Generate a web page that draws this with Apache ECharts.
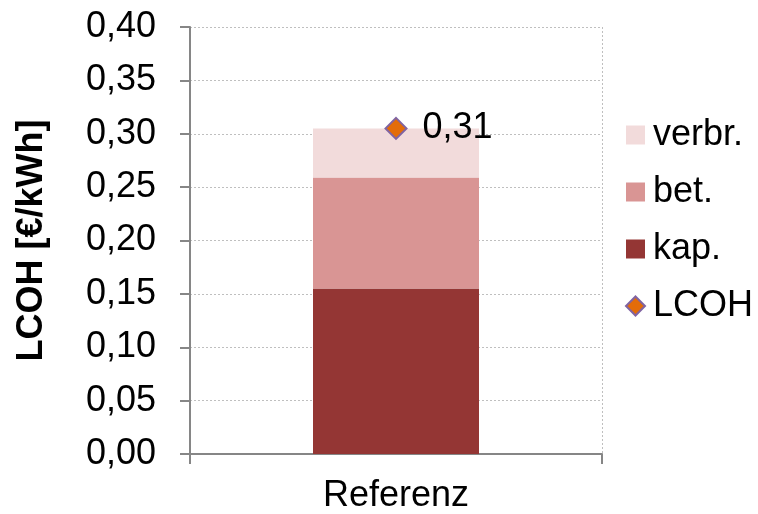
<!DOCTYPE html>
<html>
<head>
<meta charset="utf-8">
<script src="https://cdn.jsdelivr.net/npm/echarts@6/dist/echarts.min.js"></script>
<style>
  html, body { margin: 0; padding: 0; background: #fff; }
  #chart { width: 758px; height: 514px; }
</style>
</head>
<body>
<div id="chart"></div>
<script>
// Levelized cost of heat, split into its cost components (€/kWh)
const categories = ['Referenz'];
const kap = [0.155];    // capital costs
const bet = [0.104];    // operating costs
const verbr = [0.046];  // consumption costs
const lcoh = categories.map((_, i) => kap[i] + bet[i] + verbr[i]);

const yMin = 0, yMax = 0.4, yStep = 0.05;
// two decimals, half rounded up, German decimal comma
const fmt = v => (Math.round(v * 100 + 1e-9) / 100).toFixed(2).replace('.', ',');

const FONT = 'Liberation Sans, Arial, sans-serif';
const FS = 36;
const chart = echarts.init(document.getElementById('chart'), null, { renderer: 'canvas' });

chart.setOption({
  animation: false,
  textStyle: { fontFamily: FONT },
  grid: { left: 190, right: 156, top: 27, bottom: 59, containLabel: false },
  legend: {
    orient: 'vertical',
    left: 625,
    top: 117,
    padding: 0,
    itemWidth: 19,
    itemHeight: 19,
    itemGap: 21,
    textStyle: { fontFamily: FONT, fontSize: FS, color: '#000', lineHeight: 36, padding: [0, 0, 0, 3] },
    data: [
      { name: 'verbr.', icon: 'rect' },
      { name: 'bet.', icon: 'rect' },
      { name: 'kap.', icon: 'rect' },
      { name: 'LCOH', icon: 'diamond' }
    ]
  },
  xAxis: {
    type: 'category',
    data: categories,
    boundaryGap: true,
    axisLine: { lineStyle: { color: '#868686', width: 2 } },
    axisTick: { show: true, length: 10, lineStyle: { color: '#868686', width: 2 } },
    axisLabel: { fontFamily: FONT, fontSize: FS, color: '#000', margin: 24 },
    splitLine: { show: true, lineStyle: { color: '#BFBFBF', type: [2, 2], width: 1 } }
  },
  yAxis: {
    type: 'value',
    min: yMin,
    max: yMax,
    interval: yStep,
    name: 'LCOH [€/kWh]',
    nameLocation: 'middle',
    nameGap: 140,
    nameTextStyle: { fontFamily: FONT, fontSize: FS, fontWeight: 'bold', color: '#000' },
    axisLine: { show: true, lineStyle: { color: '#868686', width: 2 } },
    axisTick: { show: true, length: 10, lineStyle: { color: '#868686', width: 2 } },
    axisLabel: { fontFamily: FONT, fontSize: FS, color: '#000', margin: 34, formatter: fmt },
    splitLine: { show: true, lineStyle: { color: '#BFBFBF', type: [2, 2], width: 1 } }
  },
  series: [
    {
      name: 'kap.', type: 'bar', stack: 'total', data: kap, barWidth: 166,
      itemStyle: { color: '#943634' }
    },
    {
      name: 'bet.', type: 'bar', stack: 'total', data: bet, barWidth: 166,
      itemStyle: { color: '#D99594' }
    },
    {
      name: 'verbr.', type: 'bar', stack: 'total', data: verbr, barWidth: 166,
      itemStyle: { color: '#F2DBDB' }
    },
    {
      name: 'LCOH', type: 'scatter', data: lcoh, symbol: 'diamond', symbolSize: 21,
      itemStyle: { color: '#E36C09', borderColor: '#8064A2', borderWidth: 2, opacity: 1 },
      label: {
        show: true, position: 'right', distance: 15,
        fontFamily: FONT, fontSize: FS, color: '#000',
        formatter: p => fmt(p.value)
      },
      z: 5
    }
  ]
});
</script>
</body>
</html>
